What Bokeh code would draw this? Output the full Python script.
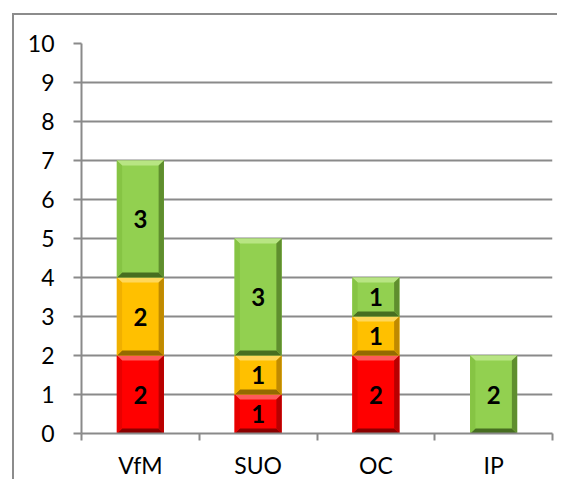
from bokeh.plotting import figure
from bokeh.models import Range1d, FixedTicker, ColumnDataSource
from bokeh.core.properties import value
from bokeh.embed import file_html
from bokeh.resources import INLINE

categories = ["VfM", "SUO", "OC", "IP"]
red_vals = [2, 1, 2, 0]
yellow_vals = [2, 1, 1, 0]
green_vals = [3, 3, 1, 2]
y_ticks = [0, 1, 2, 3, 4, 5, 6, 7, 8, 9, 10]

series = [
    (red_vals, dict(face="#FF0000", top="#FF5A5A", left="#E80000", right="#B80000", bottom="#8C0000")),
    (yellow_vals, dict(face="#FFC000", top="#FFD75A", left="#F0B000", right="#C08A00", bottom="#946A00")),
    (green_vals, dict(face="#92D050", top="#B8E583", left="#86C444", right="#5F8E2E", bottom="#476E20")),
]

FONT = "Lato"
p = figure(width=545, height=466, output_backend="svg", toolbar_location=None,
           x_range=Range1d(0.5, 4.5), y_range=Range1d(0, 10),
           min_border_left=67, min_border_right=7, min_border_top=28, min_border_bottom=48)
p.margin = (15, 0, 0, 14)
p.styles = {"box-shadow": "-2px -2px 0px 0px #8c8c8c", "vertical-align": "top"}
p.outline_line_color = None
p.background_fill_color = "white"
p.border_fill_color = "white"

# grid
p.xgrid.grid_line_color = None
p.ygrid.grid_line_color = "#8a8a8a"
p.ygrid.grid_line_width = 2
p.yaxis.ticker = FixedTicker(ticks=y_ticks)
p.xaxis.ticker = FixedTicker(ticks=[1, 2, 3, 4], minor_ticks=[0.5, 1.5, 2.5, 3.5, 4.5])
p.xaxis.major_label_overrides = {i + 1: c for i, c in enumerate(categories)}

for ax in (p.xaxis[0], p.yaxis[0]):
    ax.axis_line_color = "#8a8a8a"
    ax.axis_line_width = 2
    ax.major_label_text_font = FONT
    ax.major_label_text_font_size = "23px"
    ax.major_label_text_color = "black"
p.yaxis.major_tick_out = 8
p.yaxis.major_tick_in = 0
p.yaxis.major_tick_line_color = "#8a8a8a"
p.yaxis.major_tick_line_width = 2
p.yaxis.minor_tick_line_color = None
p.yaxis.major_label_standoff = 19
p.xaxis.major_tick_line_color = None
p.xaxis.minor_tick_out = 7
p.xaxis.minor_tick_in = 0
p.xaxis.minor_tick_line_color = "#8a8a8a"
p.xaxis.minor_tick_line_width = 2
p.xaxis.major_label_standoff = 10

w = 0.4
dx = 0.045
dy = 0.13
base = [0] * len(categories)
lab_x, lab_y, lab_t = [], [], []
for vals, col in series:
    for i, v in enumerate(vals):
        if v <= 0:
            continue
        c = i + 1
        b = base[i]
        t = b + v
        L, R = c - w / 2, c + w / 2
        p.quad(left=[L], right=[R], bottom=[b], top=[t], fill_color=col["face"], line_color=None)
        # bevel edges
        p.patch([L, R, R - dx, L + dx], [t, t, t - dy, t - dy], fill_color=col["top"], line_color=None)
        p.patch([L, R, R - dx, L + dx], [b, b, b + dy, b + dy], fill_color=col["bottom"], line_color=None)
        p.patch([L, L + dx, L + dx, L], [b, b + dy, t - dy, t], fill_color=col["left"], line_color=None)
        p.patch([R, R - dx, R - dx, R], [b, b + dy, t - dy, t], fill_color=col["right"], line_color=None)
        lab_x.append(c)
        lab_y.append(b + v / 2)
        lab_t.append(str(v))
        base[i] = t

src = ColumnDataSource(dict(x=lab_x, y=lab_y, t=lab_t))
p.text(x="x", y="y", text="t", source=src, text_font=value(FONT), text_font_style="bold",
       text_font_size="24px", text_align="center", text_baseline="middle", text_color="black")

open("out.html", "w").write(file_html(p, INLINE))
